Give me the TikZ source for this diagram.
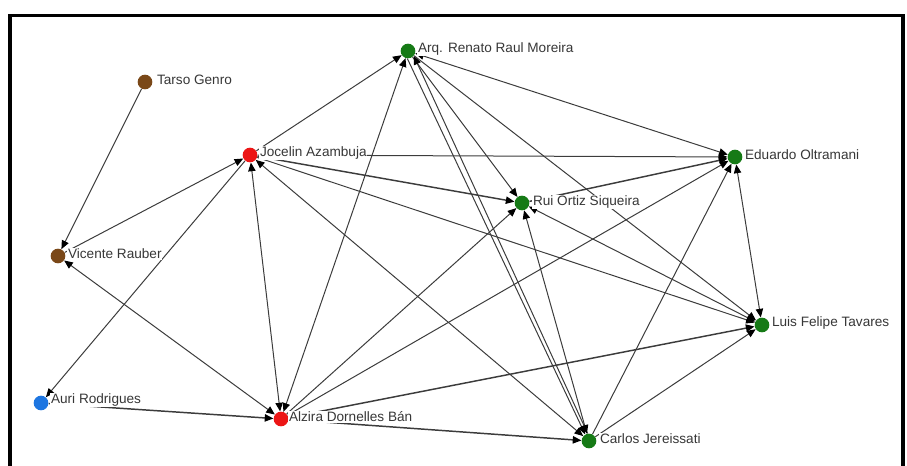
\documentclass[tikz,border=0pt]{standalone}
\usepackage{fontspec}
\setmainfont{Liberation Sans}
\usetikzlibrary{arrows.meta}
\pgfdeclarelayer{bg}
\pgfsetlayers{bg,main}
\definecolor{ngreen}{RGB}{22,122,22}
\definecolor{nred}{RGB}{236,22,22}
\definecolor{nbrown}{RGB}{122,72,24}
\definecolor{nblue}{RGB}{30,118,225}
\definecolor{edgegray}{RGB}{60,60,60}
\definecolor{labgray}{RGB}{55,55,55}
\begin{document}
\begin{tikzpicture}[x=0.75pt,y=-0.75pt,
  dot/.style={circle,inner sep=0pt,minimum size=11pt},
  lab/.style={anchor=west,fill=white,inner sep=0.6pt,text=labgray,
    font=\fontsize{10.2pt}{12pt}\selectfont},
  tip/.tip={Triangle[length=6.5pt,width=5.5pt,color=black]},
  tie/.style={draw=edgegray,line width=0.75pt},
  heavy/.style={draw=edgegray,line width=1.1pt},
  frame/.style={draw=black,line width=2.3pt}
]
\useasboundingbox (0,0) rectangle (907,466);
\draw[frame] (10,466) -- (10,15.5) -- (903,15.5) -- (903,466);

% nodes
\node[dot,fill=ngreen] (arq) at (408,51) {};
\node[dot,fill=nbrown] (tarso) at (145,82) {};
\node[dot,fill=nred] (jocelin) at (250,155) {};
\node[dot,fill=ngreen] (eduardo) at (735,157) {};
\node[dot,fill=ngreen] (rui) at (522,203) {};
\node[dot,fill=nbrown] (vicente) at (58,256) {};
\node[dot,fill=ngreen] (luis) at (762,325) {};
\node[dot,fill=nblue] (auri) at (41,403) {};
\node[dot,fill=nred] (alzira) at (281,419) {};
\node[dot,fill=ngreen] (carlos) at (589,441) {};

% labels
\node[lab] (arqL) at (417,49) {Arq. Renato Raul Moreira};
\node[lab] (tarsoL) at (156,80) {Tarso Genro};
\node[lab] (jocelinL) at (259,153) {Jocelin Azambuja};
\node[lab] (eduardoL) at (744,155) {Eduardo Oltramani};
\node[lab] (ruiL) at (532,202) {Rui Ortiz Siqueira};
\node[lab] (vicenteL) at (67,254) {Vicente Rauber};
\node[lab] (luisL) at (771,323) {Luis Felipe Tavares};
\node[lab] (auriL) at (50,400) {Auri Rodrigues};
\node[lab] (alziraL) at (288,417) {Alzira Dornelles Bán};
\node[lab] (carlosL) at (599,439) {Carlos Jereissati};

\begin{pgfonlayer}{bg}
\draw[tie,-tip] (tarso) -- (vicente);
\draw[tie,-tip] (vicente) -- (jocelin);
\draw[tie,tip-tip] (alzira) -- (vicente);
\draw[tie,-tip] (jocelin) -- (auri);
\draw[heavy,-tip] (auri) -- (alzira);
\draw[tie,tip-tip] (jocelin) -- (alzira);
\draw[tie,-tip] (jocelin) -- (arq);
\draw[tie,tip-tip] (alzira) -- (arq);
\draw[tie,-tip] (jocelin) -- (eduardo);
\draw[heavy,-tip] (jocelin) -- (rui);
\draw[tie,-tip] (jocelin) -- (luis);
\draw[tie,tip-tip] (jocelin) -- (carlos);
\draw[tie,tip-tip] (arq) -- (eduardo);
\draw[tie,-tip] (arq) -- (rui);
\draw[tie,-tip] (arq.-95) -- (carlos.120);
\draw[tie,-tip] (carlos.100) -- (arq.-40);
\draw[tie,-tip] (arq) -- (luis);
\draw[heavy,-tip] (rui) -- (eduardo);
\draw[tie,tip-tip] (eduardo) -- (luis);
\draw[tie,-tip] (alzira) -- (eduardo);
\draw[tie,-tip] (alzira) -- (rui);
\draw[heavy,-tip] (alzira) -- (luis);
\draw[heavy,-tip] (alzira) -- (carlos);
\draw[tie,tip-tip] (carlos) -- (rui);
\draw[tie,tip-tip] (rui) -- (luis);
\draw[tie,-tip] (carlos) -- (eduardo);
\draw[tie,-tip] (carlos) -- (luis);
\end{pgfonlayer}
\end{tikzpicture}
\end{document}
